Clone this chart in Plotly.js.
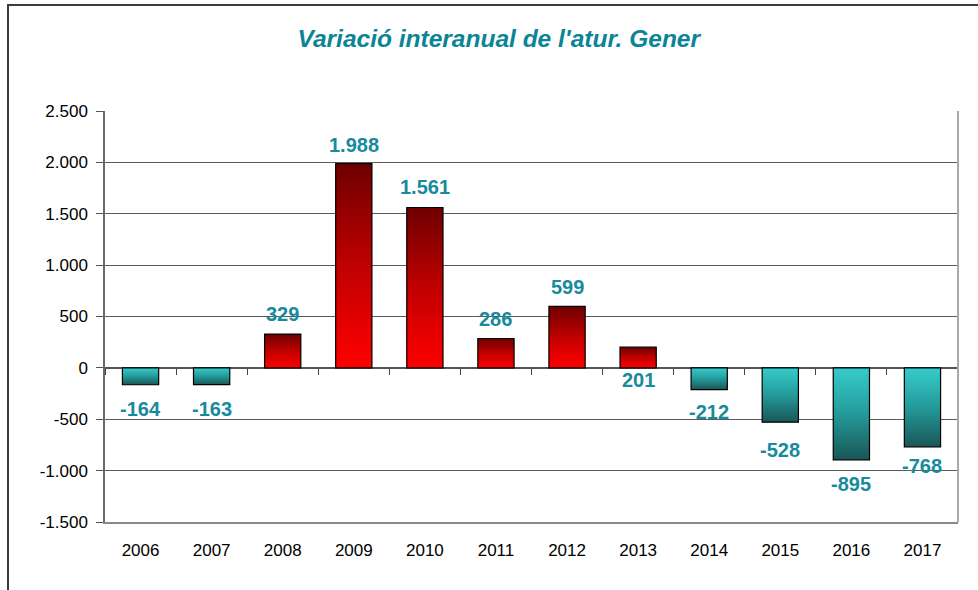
<!DOCTYPE html>
<html>
<head>
<meta charset="utf-8">
<script src="https://cdn.plot.ly/plotly-3.0.1.min.js"></script>
<style>
  html, body { margin: 0; padding: 0; background: #fff; }
  #wrap { position: relative; width: 978px; height: 590px; overflow: hidden; }
  #chart { width: 978px; height: 590px; }
  #frame { position: absolute; left: 7px; top: 4px; width: 1000px; height: 700px;
           border-left: 2px solid #3c3c3c; border-top: 2px solid #3c3c3c; pointer-events: none; }
</style>
</head>
<body>
<div id="wrap">
  <div id="chart"></div>
  <div id="frame"></div>
</div>
<script>
// ---- data ----
const years  = ['2006','2007','2008','2009','2010','2011','2012','2013','2014','2015','2016','2017'];
const values = [-164, -163, 329, 1988, 1561, 286, 599, 201, -212, -528, -895, -768];
const yTickVals = [-1500, -1000, -500, 0, 500, 1000, 1500, 2000, 2500];
const titleText = "Variació interanual de l'atur. Gener";

// ---- style: pixel offset of each data label from the bar end ----
const labelShift = [-24, -24, 20, 19, 20, 19, 19, -33, -22, -28, -24, -19];

const labelColor = '#178a9d';
const posColor = '#cc0000';
const negColor = '#2a9c9c';
const FONT = 'Liberation Sans, Arial, sans-serif';

function fmt(v) {
  const s = Math.abs(v).toString().replace(/\B(?=(\d{3})+(?!\d))/g, '.');
  return (v < 0 ? '-' : '') + s;
}

const bars = {
  type: 'bar',
  x: years,
  y: values,
  width: 0.51,
  marker: {
    color: values.map(v => v >= 0 ? posColor : negColor),
    line: { color: '#000000', width: 1.2 }
  },
  hoverinfo: 'x+y',
  showlegend: false
};

// invisible helper trace so the zero-line tick axis has categories
const helper = {
  type: 'scatter',
  mode: 'markers',
  x: years,
  y: values,
  xaxis: 'x2',
  marker: { opacity: 0 },
  hoverinfo: 'skip',
  showlegend: false
};

const annotations = years.map((yr, i) => ({
  x: i,
  y: values[i],
  xref: 'x',
  yref: 'y',
  text: '<b>' + fmt(values[i]) + '</b>',
  showarrow: false,
  xanchor: 'center',
  yanchor: 'middle',
  yshift: labelShift[i],
  font: { family: FONT, size: 20, color: labelColor }
}));

const layout = {
  width: 978,
  height: 590,
  margin: { l: 105, r: 20, t: 111, b: 68 },
  paper_bgcolor: '#ffffff',
  plot_bgcolor: '#ffffff',
  separators: ',.',
  title: {
    text: '<b><i>' + titleText + '</i></b>',
    font: { family: FONT, size: 24.5, color: '#0a8496' },
    xref: 'container', yref: 'container',
    x: 0.51, y: 1 - 38 / 590, xanchor: 'center', yanchor: 'middle'
  },
  font: { family: FONT, size: 17, color: '#000' },
  xaxis: {
    type: 'category',
    categoryarray: years,
    range: [-0.5, 11.5],
    showgrid: false,
    zeroline: false,
    showline: true,
    linecolor: '#8a8a8a',
    linewidth: 1.5,
    ticks: 'outside',
    ticklen: 12,
    tickcolor: 'rgba(0,0,0,0)',
    tickfont: { family: FONT, size: 17, color: '#000' },
    fixedrange: true
  },
  xaxis2: {
    type: 'category',
    categoryarray: years,
    range: [-0.5, 11.5],
    overlaying: 'x',
    anchor: 'free',
    position: 1500 / 4000,
    side: 'bottom',
    showgrid: false,
    zeroline: false,
    showline: false,
    ticks: 'outside',
    tickson: 'boundaries',
    ticklen: 6,
    tickwidth: 1.2,
    tickcolor: '#444',
    showticklabels: false,
    fixedrange: true
  },
  yaxis: {
    range: [-1500, 2500],
    tickvals: yTickVals,
    ticktext: yTickVals.map(fmt),
    showgrid: true,
    gridcolor: '#5a5a5a',
    gridwidth: 1,
    zeroline: true,
    zerolinecolor: '#555',
    zerolinewidth: 1.5,
    showline: true,
    linecolor: '#6a6a6a',
    linewidth: 1.5,
    ticks: 'outside',
    ticklen: 7,
    tickcolor: '#555',
    ticklabelstandoff: 5,
    tickfont: { family: FONT, size: 17, color: '#000' },
    fixedrange: true
  },
  shapes: [
    { type: 'line', xref: 'paper', yref: 'paper', x0: 1, x1: 1, y0: 0, y1: 1,
      line: { color: '#a8a8a8', width: 2 } }
  ],
  annotations: annotations,
  bargap: 0.49,
  showlegend: false
};

Plotly.newPlot('chart', [bars, helper], layout, { displayModeBar: false }).then(gd => {
  const svg = gd.querySelector('.main-svg');
  let defs = svg.querySelector('defs');
  const NS = 'http://www.w3.org/2000/svg';
  if (!defs) { defs = document.createElementNS(NS, 'defs'); svg.insertBefore(defs, svg.firstChild); }
  function grad(id, stops) {
    const g = document.createElementNS(NS, 'linearGradient');
    g.setAttribute('id', id);
    g.setAttribute('x1', '0'); g.setAttribute('y1', '0');
    g.setAttribute('x2', '0'); g.setAttribute('y2', '1');
    stops.forEach(([o, c]) => {
      const s = document.createElementNS(NS, 'stop');
      s.setAttribute('offset', o);
      s.setAttribute('stop-color', c);
      g.appendChild(s);
    });
    defs.appendChild(g);
  }
  grad('gradPos', [['0', '#6e0000'], ['0.5', '#c00000'], ['1', '#ff0000']]);
  grad('gradNeg', [['0', '#36cccc'], ['0.5', '#249a9a'], ['1', '#1a5656']]);
  const paths = gd.querySelectorAll('.barlayer .trace.bars .point path');
  paths.forEach((p, i) => {
    p.style.fill = values[i] >= 0 ? 'url(#gradPos)' : 'url(#gradNeg)';
  });
});
</script>
</body>
</html>
